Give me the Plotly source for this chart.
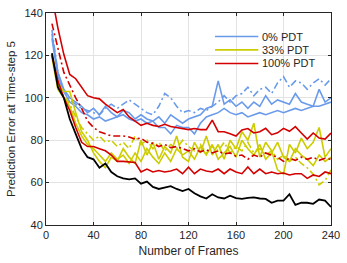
import plotly.graph_objects as go

frames = [5, 10, 15, 20, 25, 30, 35, 40, 45, 50, 55, 60, 65, 70, 75, 80, 85, 90, 95, 100,
          105, 110, 115, 120, 125, 130, 135, 140, 145, 150, 155, 160, 165, 170, 175, 180,
          185, 190, 195, 200, 205, 210, 215, 220, 225, 230, 235, 240]

blue_solid_a = [130, 112, 104, 100, 98, 96, 93, 95, 92, 96, 93, 91, 94, 93, 90, 92, 90, 89, 91, 88,
                92, 90, 88, 90, 91, 92, 95, 96, 108, 97, 99, 96, 98, 95, 98, 96,
                101, 97, 99, 98, 97, 102, 98, 97, 96, 104, 98, 100]
blue_solid_b = [128, 110, 103, 98, 96, 93, 92, 90, 91, 89, 90, 91, 92, 90, 89, 90, 88, 89, 86, 86,
                83, 87, 86, 86, 83, 88, 91, 92, 93, 95, 93, 92, 93, 91, 92, 93,
                92, 93, 94, 93, 94, 95, 94, 95, 96, 96, 97, 98]
blue_dashdot = [132, 112, 103, 99, 97, 95, 94, 93, 92, 95, 97, 95, 97, 99, 97, 95, 93, 92, 96, 102,
                100, 96, 93, 94, 93, 95, 94, 96, 98, 101, 98, 101, 102, 105, 101, 104,
                105, 102, 107, 110, 105, 108, 107, 104, 107, 109, 106, 109]

yellow_solid_a = [121, 107, 103, 103, 93, 84, 80, 74, 70, 67, 72, 70, 76, 72, 69, 80, 73, 79, 71, 77,
                  74, 82, 72, 70, 79, 74, 82, 73, 78, 71, 80, 76, 84, 80, 88, 72,
                  79, 75, 66, 64, 78, 74, 81, 76, 79, 86, 72, 76]
yellow_solid_b = [119, 104, 100, 96, 88, 82, 78, 76, 73, 70, 74, 71, 73, 69, 74, 70, 76, 72, 69, 74,
                  70, 76, 73, 75, 71, 77, 73, 78, 71, 74, 77, 72, 80, 76, 73, 78,
                  71, 74, 79, 72, 70, 76, 73, 71, 68, 73, 70, 72]
yellow_dashdot = [120, 106, 101, 97, 91, 86, 83, 80, 82, 79, 80, 77, 79, 76, 82, 78, 80, 76, 79, 75,
                  78, 76, 80, 77, 75, 78, 74, 77, 75, 79, 74, 77, 75, 79, 74, 76,
                  73, 75, 71, 73, 70, 72, 69, 67, 64, 59, 61, 66]

red_solid_top = [148, 133, 120.5, 111, 109, 105, 101, 100, 99.5, 97, 95, 93, 94.5, 91, 89, 87, 88, 87, 86.5, 87.5,
                 86.5, 86, 85.5, 85, 85.5, 85, 85, 89.5, 84, 84, 83, 82, 84.8, 85.5, 83.4, 84,
                 85.6, 82.6, 83.5, 85.6, 84.2, 86.4, 83.4, 80.5, 83.4, 81, 80.5, 83.4]
red_solid_low = [120, 108, 100, 94, 86, 79, 77, 77, 76, 75, 73, 70, 70, 69.7, 69.5, 65, 66.4, 65, 65.7, 65,
                 65.5, 66.4, 64.2, 67.3, 64.2, 66.4, 65.5, 65, 66.4, 64.2, 66.4, 65, 64.2, 67.4, 64.2, 66.4,
                 64.2, 65, 64.2, 64.5, 63.6, 64.2, 64.2, 62, 63.6, 62.9, 65, 64.2]
red_dashdot = [135, 123, 112, 106, 100, 95, 89, 86, 84, 83, 82, 82, 82, 81.5, 80.5, 81, 79, 78.5, 77, 78,
               76.5, 77, 76, 75, 76, 74.5, 75.5, 74, 75, 73.5, 74, 72.5, 73, 71, 73, 72,
               74, 73, 72, 70, 71.5, 70.5, 72, 71, 72, 70.5, 71.5, 71]

black_line = [121, 105, 100, 90, 83, 76, 72, 71, 67, 69, 65, 63, 62, 61.5, 62, 59.5, 60.5, 58, 57, 57.5,
              58.3, 57, 56, 57, 55, 53.5, 52.5, 54.5, 53, 52.5, 53.8, 52.7, 52.3, 52.8, 53, 52.5,
              52.3, 50.5, 51.5, 51.5, 54.5, 49.5, 50.5, 50.5, 50, 52, 51.5, 48.5]

x_ticks = [0, 40, 80, 120, 160, 200, 240]
y_ticks = [40, 60, 80, 100, 120, 140]
legend_labels = ["0% PDT", "33% PDT", "100% PDT"]

BLUE = "#6a9bea"
YELLOW = "#cccc00"
RED = "#d40000"
DASHDOT = "7px,3px,2px,3px"
legend_colors = [BLUE, YELLOW, RED]

series = [
    (blue_solid_a, BLUE, "solid"),
    (blue_solid_b, BLUE, "solid"),
    (blue_dashdot, BLUE, DASHDOT),
    (yellow_solid_a, YELLOW, "solid"),
    (yellow_solid_b, YELLOW, "solid"),
    (yellow_dashdot, YELLOW, DASHDOT),
    (red_solid_top, RED, "solid"),
    (red_solid_low, RED, "solid"),
    (red_dashdot, RED, DASHDOT),
]

fig = go.Figure()
for vals, col, dash in series:
    fig.add_trace(go.Scatter(x=frames, y=vals, mode="lines", showlegend=False,
                             line=dict(color=col, width=1.6, dash=dash)))
fig.add_trace(go.Scatter(x=frames, y=black_line, mode="lines", showlegend=False,
                         line=dict(color="#000000", width=1.8)))

# manual legend (compact row spacing like the original)
leg_x0, leg_x1, leg_tx = 0.593, 0.745, 0.752
leg_ys = [0.889, 0.826, 0.762]
for lab, col, ly in zip(legend_labels, legend_colors, leg_ys):
    fig.add_shape(type="line", xref="paper", yref="paper", x0=leg_x0, x1=leg_x1, y0=ly, y1=ly,
                  line=dict(color=col, width=1.6))
    fig.add_annotation(xref="paper", yref="paper", x=leg_tx, y=ly, text=lab, showarrow=False,
                       xanchor="left", yanchor="middle", font=dict(size=11, color="#262626"))

axis_common = dict(showline=True, linecolor="#262626", linewidth=1, mirror="allticks",
                   ticks="inside", ticklen=3, tickcolor="#262626",
                   showgrid=True, gridcolor="#e3e3e3", gridwidth=1, zeroline=False,
                   tickfont=dict(size=11, color="#262626"))

fig.update_layout(
    width=347, height=263,
    margin=dict(l=46, r=11, t=7, b=36),
    paper_bgcolor="white", plot_bgcolor="white",
    font=dict(family="Liberation Sans, Arial, sans-serif", size=11, color="#262626"),
    xaxis=dict(range=[0, 240], tickvals=x_ticks,
               title=dict(text="Number of Frames", standoff=6, font=dict(size=12)),
               **axis_common),
    yaxis=dict(range=[40, 140], tickvals=y_ticks,
               title=dict(text="Prediction Error at Time-step 5", standoff=6, font=dict(size=11.5)),
               **axis_common),
    showlegend=False,
)

fig.write_html("out.html", config={"displayModeBar": False},
               post_script="document.body.style.margin='0';")
